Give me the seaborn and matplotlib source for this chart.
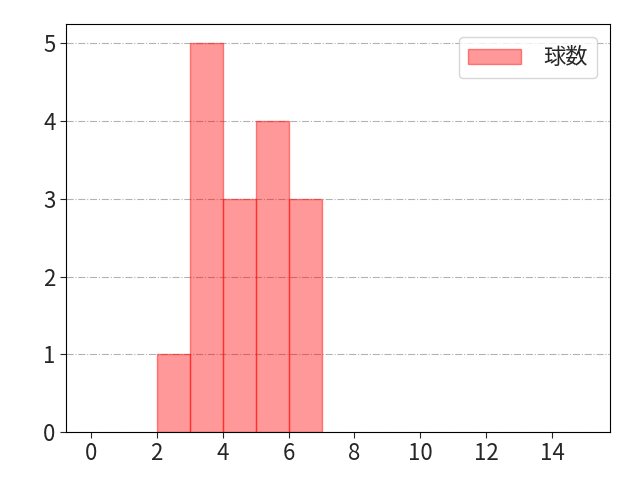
import matplotlib
matplotlib.use("Agg")
import matplotlib.pyplot as plt
import seaborn as sns
import pandas as pd

# pitch counts per appearance
pitches = [2, 3, 3, 3, 3, 3, 4, 4, 4, 5, 5, 5, 5, 6, 6, 6]
bin_edges = list(range(0, 16))

sns.set_style("ticks")
plt.rcParams['font.family'] = ['Noto Sans CJK JP', 'DejaVu Sans']

df = pd.DataFrame({"球数": pitches})

fig, ax = plt.subplots(figsize=(6.4, 4.8), dpi=100)
sns.histplot(data=df, x="球数", bins=bin_edges, color="red", alpha=0.4,
             edgecolor=(1, 0, 0, 0.45), linewidth=1, label="球数", ax=ax)
# hide outlines of empty bins
for p in ax.patches:
    if p.get_height() == 0:
        p.set_linewidth(0)
ax.set_xlim(-0.75, 15.75)
ax.set_xlabel("")
ax.set_ylabel("")
ax.set_xticks(range(0, 16, 2))
ax.tick_params(labelsize=16, length=4)
ax.grid(axis="y", linestyle="-.", color="gray", alpha=0.6)
ax.set_axisbelow(True)
for s in ax.spines.values():
    s.set_color("black")
leg = ax.legend(loc="upper right", fontsize=16, handlelength=2.4, handletextpad=1.0,
                borderaxespad=0.6)
for h in leg.legend_handles:
    h.set_edgecolor((1, 0, 0, 0.45))
    h.set_linewidth(1)
fig.subplots_adjust(left=66/640, right=610/640, top=1-24/480, bottom=1-432/480)
plt.savefig("out.png")
